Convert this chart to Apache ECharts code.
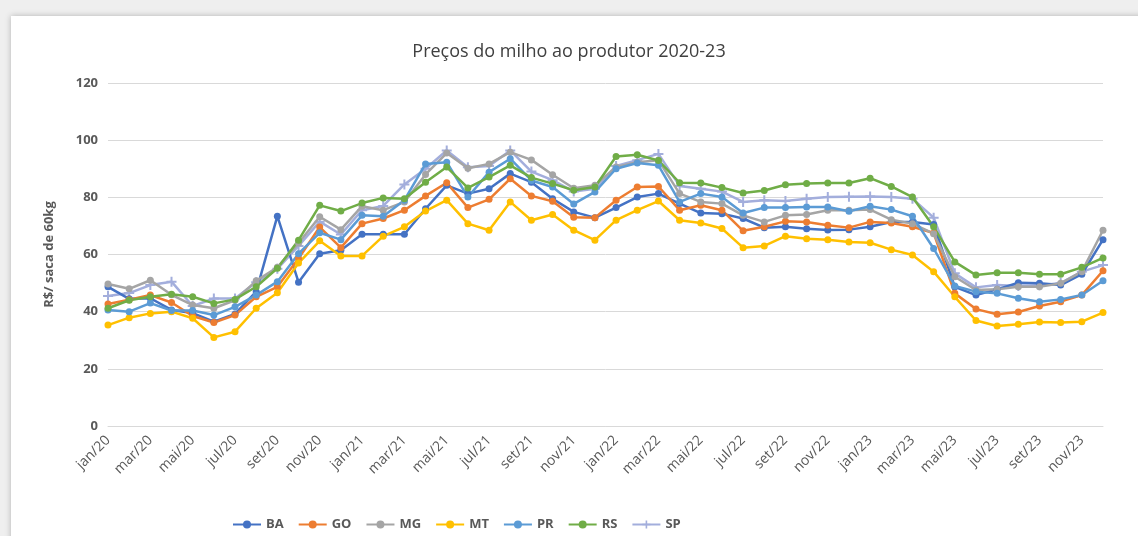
<!DOCTYPE html>
<html>
<head>
<meta charset="utf-8" />
<title>Preços do milho</title>
<script src="https://cdn.jsdelivr.net/npm/echarts@6/dist/echarts.min.js"></script>
<style>
  body { margin: 0; background: #efefef; }
  #card { position: absolute; left: 11px; top: 16px; width: 1140px; height: 530px; background: #fff;
          box-shadow: 0 0 6px rgba(0,0,0,0.25); }
  #main { position: absolute; left: 0; top: 0; width: 1138px; height: 536px; }
</style>
</head>
<body>
<div id="card"></div>
<div id="main"></div>
<script type="text/javascript">
var meses = ['jan/20','fev/20','mar/20','abr/20','mai/20','jun/20','jul/20','ago/20','set/20','out/20','nov/20','dez/20',
             'jan/21','fev/21','mar/21','abr/21','mai/21','jun/21','jul/21','ago/21','set/21','out/21','nov/21','dez/21',
             'jan/22','fev/22','mar/22','abr/22','mai/22','jun/22','jul/22','ago/22','set/22','out/22','nov/22','dez/22',
             'jan/23','fev/23','mar/23','abr/23','mai/23','jun/23','jul/23','ago/23','set/23','out/23','nov/23','dez/23'];

var BA = [48.7,44.5,44.7,40.6,39.5,36.5,39.2,47.0,73.4,50.3,60.3,61.5,
          67.1,67.1,67.1,76.0,84.2,81.3,83.0,88.3,85.3,79.5,74.9,72.9,
          76.4,80.1,81.3,77.8,74.5,74.3,72.6,69.4,69.7,69.0,68.6,68.7,
          69.7,71.4,71.4,70.5,48.7,45.8,47.8,50.1,49.9,49.3,53.1,65.2];
var GO = [42.7,44.2,45.8,43.2,38.5,36.2,38.8,45.2,48.7,58.6,69.6,62.4,
          70.8,72.6,75.5,80.5,85.1,76.4,79.3,86.5,80.5,78.6,73.0,72.9,
          79.0,83.6,83.8,75.5,77.2,75.5,68.3,69.7,71.6,71.4,70.2,69.4,
          71.4,71.0,69.7,67.5,46.4,40.9,39.1,39.9,42.0,43.5,45.8,54.3];
var MG = [49.7,48.0,51.0,45.9,42.3,41.2,44.0,50.8,55.5,64.0,73.2,68.7,
          76.9,75.5,78.4,88.0,95.5,90.2,91.7,95.8,93.1,87.9,83.2,84.2,
          90.6,92.3,93.0,81.3,78.4,77.8,73.7,71.4,73.7,74.0,75.5,75.5,
          75.7,72.2,70.8,67.3,52.2,47.6,47.8,48.7,48.7,49.9,54.0,68.5];
var MT = [35.3,37.9,39.4,40.0,37.7,31.0,33.0,41.2,46.6,57.0,64.8,59.5,
          59.5,66.4,69.7,75.2,79.0,70.8,68.5,78.4,72.0,74.0,68.5,65.0,
          72.0,75.5,78.7,72.0,71.0,69.1,62.4,63.0,66.4,65.5,65.2,64.4,
          64.1,61.7,59.8,54.0,45.2,36.9,35.0,35.6,36.4,36.2,36.5,39.7];
var PR = [40.6,40.0,43.0,40.4,40.4,38.8,41.7,45.8,50.5,60.3,67.6,65.2,
          73.7,73.4,79.0,91.7,92.3,80.1,88.8,93.5,85.9,83.6,77.7,81.9,
          90.0,92.0,91.2,78.4,81.3,80.1,74.5,76.4,76.4,76.6,76.6,75.1,
          76.9,75.7,73.4,62.1,49.0,47.0,46.4,44.7,43.5,44.3,45.8,50.8];
var RS = [41.2,44.0,45.2,46.1,45.2,42.9,44.3,48.7,55.2,65.0,77.2,75.2,
          78.0,79.8,79.5,85.3,90.6,83.3,87.1,91.2,86.9,84.8,82.5,83.6,
          94.3,94.9,92.9,85.1,85.0,83.4,81.5,82.4,84.4,84.8,85.0,85.0,
          86.7,83.8,80.1,69.7,57.4,52.8,53.6,53.6,53.1,53.1,55.5,58.8];
var SP = [45.5,46.5,49.3,50.5,42.0,44.6,44.6,50.3,55.0,63.0,71.5,67.0,
          75.5,77.0,84.5,90.0,96.4,90.5,91.0,96.4,89.0,86.0,82.0,83.0,
          91.0,93.0,95.2,84.0,83.0,82.0,78.4,79.0,78.7,79.5,80.1,80.2,
          80.3,80.1,79.5,72.9,53.4,48.5,49.3,49.0,49.2,50.0,54.0,56.3];

var estados = ['BA','GO','MG','MT','PR','RS','SP'];
var dados = [BA, GO, MG, MT, PR, RS, SP];
var cores = ['#4472C4','#ED7D31','#A5A5A5','#FFC000','#5B9BD5','#70AD47','#A3AEDC'];
var mais = 'path://M4,0H6V4H10V6H6V10H4V6H0V4H4Z';

var series = estados.map(function(nome, i){
    return {
        name: nome,
        type: 'line',
        data: dados[i],
        symbol: nome == 'SP' ? mais : 'circle',
        symbolSize: nome == 'SP' ? 10 : 7,
        lineStyle: { width: 2.5, color: cores[i] },
        itemStyle: { color: cores[i] },
        z: nome == 'SP' ? 1 : 2
    };
});

var myChart = echarts.init(document.getElementById('main'));
myChart.setOption({
    animation: false,
    color: cores,
    title: {
        text: 'Preços do milho ao produtor 2020-23',
        left: 'center',
        top: 38,
        textStyle: { fontFamily: 'Open Sans', fontSize: 18, fontWeight: 'normal', color: '#404040' }
    },
    legend: {
        data: estados,
        left: 227,
        top: 513,
        itemWidth: 28,
        itemHeight: 10,
        itemGap: 14,
        textStyle: { fontFamily: 'Open Sans', fontSize: 13, fontWeight: 'bold', color: '#595959' }
    },
    grid: { left: 108, right: 35, top: 83, bottom: 110 },
    xAxis: {
        type: 'category',
        boundaryGap: false,
        data: meses,
        axisLine: { lineStyle: { color: '#d9d9d9' } },
        axisTick: { show: false },
        axisLabel: { interval: 1, rotate: 45, margin: 12, fontFamily: 'Open Sans', fontSize: 14, color: '#595959' }
    },
    yAxis: {
        type: 'value',
        min: 0,
        max: 120,
        interval: 20,
        name: 'R$/ saca de 60kg',
        nameLocation: 'middle',
        nameGap: 52,
        nameTextStyle: { fontFamily: 'Open Sans', fontSize: 13, fontWeight: 'bold', color: '#595959' },
        axisLine: { show: false },
        axisTick: { show: false },
        axisLabel: { margin: 10, fontFamily: 'Open Sans', fontSize: 13, fontWeight: 'bold', color: '#595959' },
        splitLine: { lineStyle: { color: '#d9d9d9' } }
    },
    series: series
});
</script>
</body>
</html>
